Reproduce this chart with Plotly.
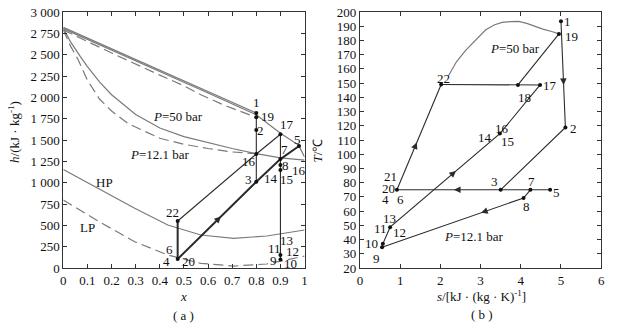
import plotly.graph_objects as go

# ================= (a) h-x diagram =================
xa_ticks = [0, 0.1, 0.2, 0.3, 0.4, 0.5, 0.6, 0.7, 0.8, 0.9, 1.0]
xa_ticktext = ["0", "0.1", "0.2", "0.3", "0.4", "0.5", "0.6", "0.7", "0.8", "0.9", "1"]
ha_ticks = [0, 250, 500, 750, 1000, 1250, 1500, 1750, 2000, 2250, 2500, 2750, 3000]
ha_ticktext = ["0", "250", "500", "750", "1 000", "1 250", "1 500", "1 750",
               "2 000", "2 250", "2 500", "2 750", "3 000"]

# upper (vapour) curves
dewA_x = [0, 0.8]
dewA_h = [2820, 1817]
dewB_x = [0, 0.2, 0.4, 0.6, 0.8, 0.9, 0.975, 1.0]
dewB_h = [2805, 2555, 2305, 2050, 1795, 1580, 1440, 1300]
dewLP_x = [0, 0.2, 0.4, 0.5, 0.57, 0.665, 0.8]
dewLP_h = [2790, 2520, 2260, 2135, 2030, 1910, 1765]

# middle curves
mid50_x = [0, 0.03, 0.07, 0.1, 0.15, 0.2, 0.3, 0.4, 0.5, 0.6, 0.7, 0.8, 0.9, 1.0]
mid50_h = [2810, 2650, 2480, 2360, 2180, 2030, 1800, 1640, 1540, 1470, 1400, 1340, 1290, 1265]
mid12_x = [0, 0.03, 0.06, 0.1, 0.15, 0.2, 0.27, 0.4, 0.5, 0.6, 0.7, 0.8]
mid12_h = [2790, 2600, 2450, 2200, 1980, 1840, 1690, 1520, 1450, 1400, 1360, 1340]

# liquid curves
hp_x = [0, 0.16, 0.296, 0.433, 0.57, 0.706, 0.843, 1.0]
hp_h = [1155, 914, 700, 504, 387, 348, 375, 445]
lp_x = [0, 0.16, 0.296, 0.433, 0.57, 0.706, 0.843, 1.0]
lp_h = [797, 524, 308, 152, 55, 23, 47, 140]

# state points (a)
sa_names = ["1", "19", "2", "16", "3", "17", "7", "8", "14", "11", "9", "5", "22", "20"]
sa_x = [0.8, 0.8, 0.8, 0.8, 0.8, 0.9, 0.9, 0.9, 0.9, 0.9, 0.9, 0.977, 0.474, 0.474]
sa_h = [1817, 1767, 1617, 1336, 1011, 1567, 1276, 1207, 1147, 151, 101, 1430, 551, 105]

paths_a = [["1", "3"], ["17", "9"], ["20", "22"], ["22", "16"],
           ["20", "3", "7", "5"], ["16", "17"]]
thick_a = [False, False, True, False, True, False]
arrows_a = [("16", "3", 0.6), ("16", "17", 0.55), ("20", "22", 0.7), ("20", "3", 0.55)]

# point labels (a)
la_text = ["1", "19", "2", "17", "5", "7", "16", "8", "16", "3", "14", "15",
           "22", "6", "4", "20", "13", "11", "12", "9", "10"]
la_x = [0.8, 0.845, 0.818, 0.927, 0.972, 0.918, 0.768, 0.92, 0.975, 0.768, 0.862, 0.927,
        0.453, 0.44, 0.429, 0.517, 0.927, 0.877, 0.95, 0.87, 0.94]
la_h = [1935, 1773, 1617, 1676, 1508, 1383, 1246, 1207, 1148, 1040, 1051, 1040,
        648, 219, 74, 74, 320, 231, 191, 86, 55]

# ================= (b) T-s diagram =================
sb_ticks = [0, 1, 2, 3, 4, 5, 6]
Tb_ticks = list(range(20, 201, 10))

dome_s = [2.2, 2.4, 2.64, 2.9, 3.13, 3.35, 3.54, 3.75, 3.95, 4.15, 4.36, 4.55, 4.77, 4.95]
dome_T = [155, 165, 173.4, 181, 187.5, 191, 192.7, 193.3, 193.4, 192, 189.8, 188, 186.3, 184.6]

sb_names = ["1", "19", "2", "3", "7", "5", "8", "9", "10", "11", "16", "17", "18", "22", "20"]
sb_s = [5.0, 4.95, 5.11, 3.5, 4.24, 4.73, 4.07, 0.55, 0.57, 0.75, 3.48, 4.48, 3.93, 2.02, 0.92]
sb_T = [193.5, 184.6, 118.8, 75, 75, 75, 69.2, 34.6, 37, 48.7, 114.5, 148.7, 148.7, 149, 75]

paths_b = [["1", "2", "3"], ["20", "3", "7", "5"],
           ["7", "8", "9", "10", "11", "16", "17"],
           ["22", "18", "17"], ["18", "19"], ["20", "22"]]
arrows_b = [("1", "2", 0.6), ("2", "3", 0.35), ("18", "19", 0.35), ("16", "17", 0.45),
            ("11", "16", 0.6), ("20", "22", 0.45), ("3", "20", 0.45), ("3", "7", 0.6),
            ("8", "9", 0.3)]

lb_text = ["1", "19", "22", "18", "17", "16", "14", "15", "2", "21", "20", "4", "6",
           "3", "7", "5", "8", "13", "11", "12", "10", "9"]
lb_s = [5.17, 5.25, 2.07, 4.1, 4.72, 3.54, 3.11, 3.67, 5.3, 0.75, 0.7, 0.63, 1.0,
        3.34, 4.27, 4.9, 4.15, 0.73, 0.5, 0.98, 0.3, 0.41]
lb_T = [193.5, 182.5, 153.4, 140, 148, 118, 111.5, 108.7, 118, 84, 75.7, 68, 68,
        80.5, 80.5, 73.4, 63.3, 55, 47.5, 44.7, 37, 26.4]

# ================= figure =================
CURVE = "#7a7a7a"
CYCLE = "#2b2b2b"
FONT = "Liberation Serif"

fig = go.Figure()


def pt(names, xs, ys, n):
    i = names.index(n)
    return xs[i], ys[i]


def add_line(x, y, xa, ya, color, width=1.2, dash=None):
    fig.add_trace(go.Scatter(x=x, y=y, mode="lines", xaxis=xa, yaxis=ya,
                             line=dict(color=color, width=width, dash=dash),
                             hoverinfo="skip", showlegend=False))


# (a) curves
add_line(dewA_x, dewA_h, "x", "y", CURVE)
add_line(dewB_x, dewB_h, "x", "y", CURVE)
add_line(dewLP_x, dewLP_h, "x", "y", CURVE, dash="10px,5px")
add_line(mid50_x, mid50_h, "x", "y", CURVE)
add_line(mid12_x, mid12_h, "x", "y", CURVE, dash="10px,5px")
add_line(hp_x, hp_h, "x", "y", CURVE)
add_line(lp_x, lp_h, "x", "y", CURVE, dash="10px,5px")

for p, thick in zip(paths_a, thick_a):
    xs = [pt(sa_names, sa_x, sa_h, n)[0] for n in p]
    ys = [pt(sa_names, sa_x, sa_h, n)[1] for n in p]
    add_line(xs, ys, "x", "y", CYCLE, width=2.0 if thick else 1.1)

fig.add_trace(go.Scatter(x=sa_x, y=sa_h, mode="markers", xaxis="x", yaxis="y",
                         marker=dict(color="#111", size=4), hoverinfo="skip", showlegend=False))

# (b) curves
add_line(dome_s, dome_T, "x2", "y2", CURVE)
for p in paths_b:
    xs = [pt(sb_names, sb_s, sb_T, n)[0] for n in p]
    ys = [pt(sb_names, sb_s, sb_T, n)[1] for n in p]
    add_line(xs, ys, "x2", "y2", CYCLE, width=1.1)
fig.add_trace(go.Scatter(x=sb_s, y=sb_T, mode="markers", xaxis="x2", yaxis="y2",
                         marker=dict(color="#111", size=4), hoverinfo="skip", showlegend=False))

ann = []


def arrow(names, xs, ys, a, b, f, xr, yr):
    x0, y0 = pt(names, xs, ys, a)
    x1, y1 = pt(names, xs, ys, b)
    hx, hy = x0 + (x1 - x0) * f, y0 + (y1 - y0) * f
    tx, ty = x0 + (x1 - x0) * (f - 0.04), y0 + (y1 - y0) * (f - 0.04)
    ann.append(dict(x=hx, y=hy, ax=tx, ay=ty, xref=xr, yref=yr, axref=xr, ayref=yr,
                    text="", showarrow=True, arrowhead=2, arrowsize=1.1,
                    arrowwidth=1.2, arrowcolor=CYCLE, standoff=0, startstandoff=0))


for a, b, f in arrows_a:
    arrow(sa_names, sa_x, sa_h, a, b, f, "x", "y")
for a, b, f in arrows_b:
    arrow(sb_names, sb_s, sb_T, a, b, f, "x2", "y2")

TF = dict(family=FONT, size=13, color="#111")
for t, x, y in zip(la_text, la_x, la_h):
    ann.append(dict(x=x, y=y, xref="x", yref="y", text=t, showarrow=False, font=TF))
for t, x, y in zip(lb_text, lb_s, lb_T):
    ann.append(dict(x=x, y=y, xref="x2", yref="y2", text=t, showarrow=False, font=TF))


def paper_text(px, py, text, angle=0):
    return dict(x=px / 621, y=(268 - py) / 256, xref="paper", yref="paper",
                xanchor="center", yanchor="middle", textangle=angle,
                text=text, showarrow=False, font=TF)


ann += [
    dict(x=0.475, y=1770, xref="x", yref="y", text="<i>P</i>=50 bar", showarrow=False, font=TF),
    dict(x=0.40, y=1325, xref="x", yref="y", text="<i>P</i>=12.1 bar", showarrow=False, font=TF),
    dict(x=0.17, y=1000, xref="x", yref="y", text="HP", showarrow=False, font=TF),
    dict(x=0.10, y=470, xref="x", yref="y", text="LP", showarrow=False, font=TF),
    dict(x=3.86, y=174.5, xref="x2", yref="y2", text="<i>P</i>=50 bar", showarrow=False, font=TF),
    dict(x=2.84, y=42.4, xref="x2", yref="y2", text="<i>P</i>=12.1 bar", showarrow=False, font=TF),
    paper_text(11, 132, "<i>h</i>/(kJ · kg<sup>-1</sup>)", -90),
    paper_text(183, 296, "<i>x</i>"),
    paper_text(183, 315, "( a )"),
    paper_text(318, 150, "<i>T</i>/℃", -90),
    paper_text(484, 296, "<i>s</i>/[kJ · (kg · K)<sup>-1</sup>]"),
    paper_text(484, 314, "( b )"),
]

axis_common = dict(showgrid=False, zeroline=False, showline=True, mirror="allticks",
                   linecolor="#333", linewidth=1, ticks="inside", ticklen=4,
                   tickcolor="#333", tickfont=dict(family=FONT, size=13, color="#111"))

fig.update_layout(
    width=621, height=327,
    margin=dict(l=0, r=0, t=12, b=59),
    paper_bgcolor="white", plot_bgcolor="white",
    showlegend=False,
    xaxis=dict(domain=[61 / 621, 305 / 621], range=[0, 1], tickvals=xa_ticks,
               ticktext=xa_ticktext, anchor="y", **axis_common),
    yaxis=dict(domain=[0, 1], range=[0, 3000], tickvals=ha_ticks, ticktext=ha_ticktext,
               anchor="x", **axis_common),
    xaxis2=dict(domain=[361 / 621, 605 / 621], range=[0, 6], tickvals=sb_ticks,
                anchor="y2", **axis_common),
    yaxis2=dict(domain=[0, 1], range=[20, 200], tickvals=Tb_ticks, anchor="x2",
                **axis_common),
    annotations=ann,
)

fig.write_html("out.html")
